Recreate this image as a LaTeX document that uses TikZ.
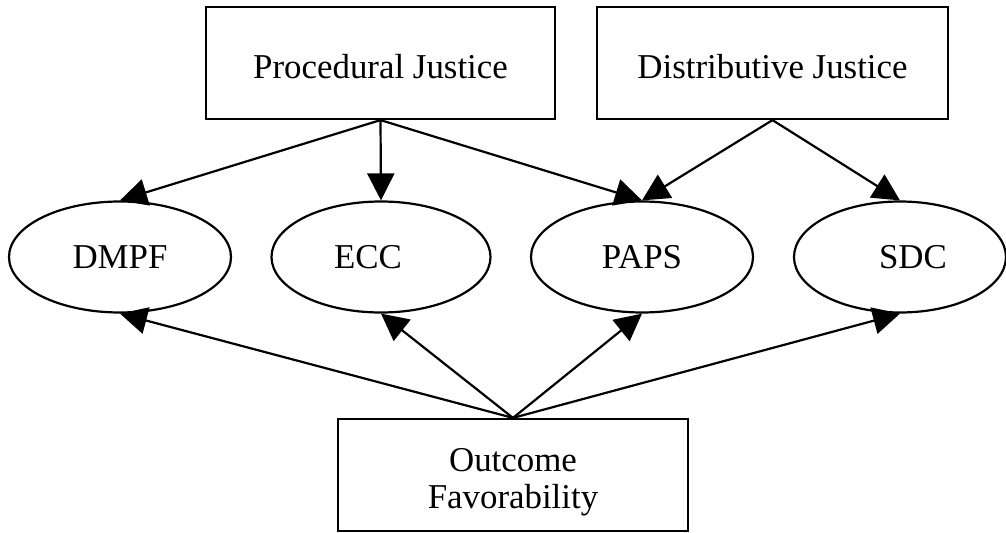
\documentclass[tikz,border=0pt]{standalone}
\usepackage{fontspec}
\setmainfont{Liberation Serif}
\usetikzlibrary{shapes.geometric,arrows.meta}
\begin{document}
\begin{tikzpicture}[x=1bp,y=-1bp,
  box/.style={draw,line width=2.2bp,rectangle,minimum width=349bp,minimum height=112bp,
    inner sep=0pt,font=\fontsize{35}{38}\selectfont},
  oval/.style={draw,line width=2.2bp,ellipse,minimum width=222bp,minimum height=111bp,
    inner sep=0pt,font=\fontsize{35}{38}\selectfont},
  ovaltext/.style={font=\fontsize{35}{38}\selectfont,inner sep=0pt},
  arr/.style={line width=2.2bp,-{Triangle[length=27bp,width=27bp]}}]
\useasboundingbox (0,0) rectangle (1006,533);
\node[box,text height=32bp,text depth=0bp] (proc) at (380.5,63) {Procedural Justice};
\node[box,minimum width=351bp,text height=32bp,text depth=0bp] (dist) at (772.5,63) {Distributive Justice};
\node[box,minimum width=350bp,align=center,text depth=0bp] (out) at (513,475) {\rule{0pt}{30bp}Outcome\\Favorability};
\node[oval] (dmpf) at (120,257) {DMPF};
\node[oval,minimum width=219bp,label={[ovaltext,xshift=-13bp]center:ECC}] (ecc) at (381,257) {};
\node[oval] (paps) at (642,257) {PAPS};
\node[oval,minimum width=212bp,label={[ovaltext,xshift=13bp]center:SDC}] (sdc) at (900,257) {};
\draw[arr] (proc.south) -- (dmpf.north);
\draw[arr] (proc.south) -- (ecc.north);
\draw[arr] (proc.south) -- (paps.north);
\draw[arr] (dist.south) -- (paps.north);
\draw[arr] (dist.south) -- (sdc.north);
\draw[arr] (out.north) -- (dmpf.south);
\draw[arr] (out.north) -- (ecc.south);
\draw[arr] (out.north) -- (paps.south);
\draw[arr] (out.north) -- (sdc.south);
\end{tikzpicture}
\end{document}
